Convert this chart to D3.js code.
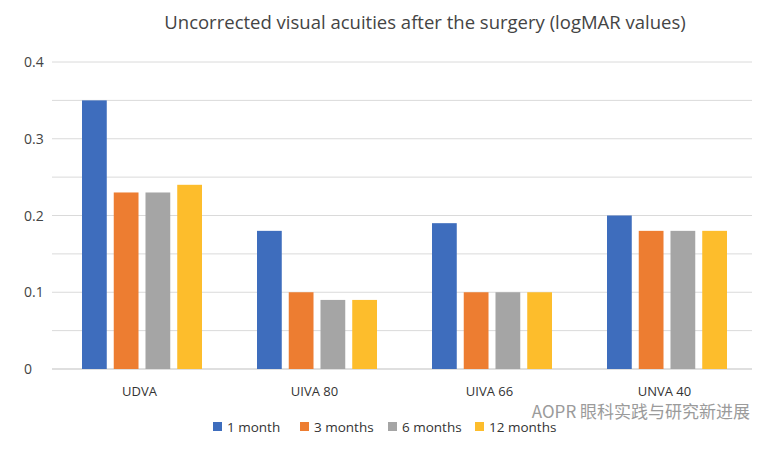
<!DOCTYPE html>
<html><head><meta charset="utf-8">
<script src="https://cdn.jsdelivr.net/npm/d3@7"></script>
<style>body{margin:0;background:#fff}</style></head>
<body><div id="chart"></div>
<script>
const categories = ['UDVA', 'UIVA 80', 'UIVA 66', 'UNVA 40'];
const seriesNames = ['1 month', '3 months', '6 months', '12 months'];
const seriesValues = [
  [0.35, 0.18, 0.19, 0.20],
  [0.23, 0.10, 0.10, 0.18],
  [0.23, 0.09, 0.10, 0.18],
  [0.24, 0.09, 0.10, 0.18]
];
const yTicks = [0, 0.1, 0.2, 0.3, 0.4];
const gridTicks = [0, 0.05, 0.1, 0.15, 0.2, 0.25, 0.3, 0.35, 0.4];
const colors = ['#3e6dbd', '#ed7d31', '#a5a5a5', '#fdbd2c'];

const W = 774, H = 449;
const svg = d3.select('#chart').append('svg').attr('width', W).attr('height', H)
  .style('font-family', '"Open Sans", "Liberation Sans", sans-serif');

const x = d3.scaleBand().domain(categories).range([52, 752]);
const xs = d3.scaleBand().domain(seriesNames).range([30, 150]).paddingInner(0.22);
const y = d3.scaleLinear().domain([0, 0.4]).range([369, 62]);

// grid
svg.append('g').selectAll('line').data(gridTicks).join('line')
  .attr('x1', 52).attr('x2', 752)
  .attr('y1', d => y(d)).attr('y2', d => y(d))
  .attr('stroke', d => d === 0 ? '#bfbfbf' : '#dadada').attr('stroke-width', 1);

// y labels
svg.append('g').selectAll('text').data(yTicks).join('text')
  .attr('x', 24).attr('y', d => y(d) + 5)
  .attr('font-size', 14).attr('fill', '#444')
  .text(d => d === 0 ? '0' : d3.format('.1f')(d));

// bars
const groups = svg.append('g').selectAll('g').data(categories).join('g')
  .attr('transform', c => `translate(${x(c)},0)`);
groups.selectAll('rect').data((c, ci) => seriesNames.map((s, si) => ({ s, si, v: seriesValues[si][ci] })))
  .join('rect')
  .attr('x', d => xs(d.s)).attr('width', xs.bandwidth())
  .attr('y', d => y(d.v)).attr('height', d => y(0) - y(d.v))
  .attr('fill', d => colors[d.si]);

// x labels
svg.append('g').selectAll('text').data(categories).join('text')
  .attr('x', c => x(c) + x.bandwidth() / 2).attr('y', 396)
  .attr('text-anchor', 'middle').attr('font-size', 13).attr('fill', '#333')
  .text(c => c);

// title
svg.append('text').attr('x', 425).attr('y', 29).attr('text-anchor', 'middle')
  .attr('font-size', 18.5).attr('fill', '#444')
  .text('Uncorrected visual acuities after the surgery (logMAR values)');

// legend
const lx = [213, 300, 388, 475];
const leg = svg.append('g').selectAll('g').data(seriesNames).join('g')
  .attr('transform', (d, i) => `translate(${lx[i]},422)`);
leg.append('rect').attr('width', 9).attr('height', 9).attr('fill', (d, i) => colors[i]);
leg.append('text').attr('x', 14).attr('y', 10).attr('font-size', 13.5).attr('fill', '#333').text(d => d);

// watermark
svg.append('text').attr('x', 750).attr('y', 418).attr('text-anchor', 'end')
  .attr('font-size', 17).attr('fill', '#8a8a8a').attr('opacity', 0.85)
  .style('font-family', '"Noto Sans CJK SC", sans-serif')
  .text('AOPR 眼科实践与研究新进展');
</script></body></html>
